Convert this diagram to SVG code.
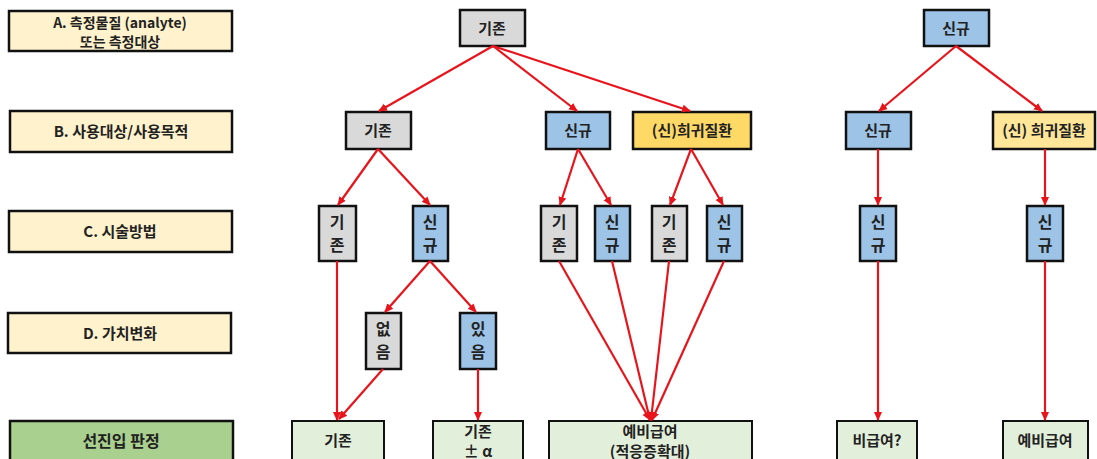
<svg xmlns="http://www.w3.org/2000/svg" width="1097" height="459" viewBox="0 0 1097 459">
<style>
text{font-family:"Noto Sans CJK KR","Liberation Sans",sans-serif;font-weight:bold;fill:#222;text-anchor:middle;font-size:15px}
.v{font-size:16px}
.lbl rect{fill:#fff2cc;stroke:#111;stroke-width:2.5}
.lbl text{font-size:15px}
.g rect{fill:#d9d9d9;stroke:#111;stroke-width:2.5}
.b rect{fill:#9dc3e6;stroke:#111;stroke-width:2.5}
.o rect{fill:#ffd966;stroke:#111;stroke-width:2.5}
.o2 rect{fill:#ffe699;stroke:#111;stroke-width:2.5}
.r rect{fill:#e2efda;stroke:#111;stroke-width:2}
.gr rect{fill:#a9d08e;stroke:#111;stroke-width:2.5}
#edges line{stroke:#e8141c;stroke-width:2.2;marker-end:url(#ah)}
</style>
<defs>
<marker id="ah" markerWidth="10" markerHeight="10" refX="8" refY="5" orient="auto" markerUnits="userSpaceOnUse">
<path d="M0,1 L9,5 L0,9 Z" fill="#e8141c"/>
</marker>
</defs>
<rect width="1097" height="459" fill="#fff"/>
<g id="labelA" class="lbl"><rect x="9" y="11" width="223" height="40"/><text x="120" y="28" style="font-size:14px">A. 측정물질 (analyte)</text><text x="120" y="47" style="font-size:14px">또는 측정대상</text></g>
<g id="labelB" class="lbl"><rect x="10" y="111" width="222" height="41"/><text x="121" y="137">B. 사용대상/사용목적</text></g>
<g id="labelC" class="lbl"><rect x="9" y="211" width="223" height="41"/><text x="120" y="237">C. 시술방법</text></g>
<g id="labelD" class="lbl"><rect x="8" y="313" width="223" height="40"/><text x="120" y="339">D. 가치변화</text></g>
<g id="labelE" class="gr"><rect x="10" y="421" width="223" height="45"/><text x="121" y="447" style="font-size:16px">선진입 판정</text></g>

<g id="a1" class="g"><rect x="460" y="10" width="65" height="36"/><text x="492" y="34">기존</text></g>
<g id="a2" class="b"><rect x="924" y="10" width="65" height="36"/><text x="956" y="34">신규</text></g>

<g id="b1" class="g"><rect x="346" y="112" width="65" height="37"/><text x="378" y="136">기존</text></g>
<g id="b2" class="b"><rect x="546" y="112" width="64" height="37"/><text x="578" y="136">신규</text></g>
<g id="b3" class="o"><rect x="633" y="112" width="118" height="37"/><text x="692" y="136">(신)희귀질환</text></g>
<g id="b4" class="b"><rect x="846" y="112" width="65" height="37"/><text x="878" y="136">신규</text></g>
<g id="b5" class="o2"><rect x="993" y="112" width="102" height="37"/><text x="1044" y="136">(신) 희귀질환</text></g>

<g id="c1" class="g"><rect x="319" y="206" width="37" height="55"/><text class="v" x="337" y="228">기</text><text class="v" x="337" y="251">존</text></g>
<g id="c2" class="b"><rect x="413" y="206" width="35" height="55"/><text class="v" x="430" y="228">신</text><text class="v" x="430" y="251">규</text></g>
<g id="c3" class="g"><rect x="541" y="206" width="36" height="55"/><text class="v" x="559" y="228">기</text><text class="v" x="559" y="251">존</text></g>
<g id="c4" class="b"><rect x="595" y="206" width="35" height="55"/><text class="v" x="612" y="228">신</text><text class="v" x="612" y="251">규</text></g>
<g id="c5" class="g"><rect x="652" y="206" width="35" height="55"/><text class="v" x="669" y="228">기</text><text class="v" x="669" y="251">존</text></g>
<g id="c6" class="b"><rect x="707" y="206" width="35" height="55"/><text class="v" x="724" y="228">신</text><text class="v" x="724" y="251">규</text></g>
<g id="c7" class="b"><rect x="860" y="206" width="36" height="55"/><text class="v" x="878" y="228">신</text><text class="v" x="878" y="251">규</text></g>
<g id="c8" class="b"><rect x="1027" y="206" width="36" height="55"/><text class="v" x="1045" y="228">신</text><text class="v" x="1045" y="251">규</text></g>

<g id="d1" class="g"><rect x="366" y="313" width="35" height="56"/><text class="v" x="383" y="335">없</text><text class="v" x="383" y="358">음</text></g>
<g id="d2" class="b"><rect x="460" y="313" width="36" height="56"/><text class="v" x="478" y="335">있</text><text class="v" x="478" y="358">음</text></g>

<g id="e1" class="r"><rect x="292" y="421" width="92" height="45"/><text x="338" y="446">기존</text></g>
<g id="e2" class="r"><rect x="433" y="421" width="90" height="45"/><text x="478" y="437">기존</text><text x="478" y="457">± α</text></g>
<g id="e3" class="r"><rect x="549" y="421" width="203" height="45"/><text x="650" y="437">예비급여</text><text x="650" y="457">(적응증확대)</text></g>
<g id="e4" class="r"><rect x="837" y="421" width="80" height="45"/><text x="877" y="446">비급여?</text></g>
<g id="e5" class="r"><rect x="1003" y="421" width="85" height="45"/><text x="1045" y="446">예비급여</text></g>

<g id="edges">
<line x1="493" y1="46" x2="379" y2="111"/>
<line x1="493" y1="46" x2="577" y2="111"/>
<line x1="493" y1="46" x2="690" y2="111"/>
<line x1="956" y1="46" x2="879" y2="111"/>
<line x1="956" y1="46" x2="1042" y2="111"/>
<line x1="378" y1="149" x2="338" y2="205"/>
<line x1="378" y1="149" x2="430" y2="205"/>
<line x1="578" y1="149" x2="560" y2="205"/>
<line x1="578" y1="149" x2="611" y2="205"/>
<line x1="691" y1="149" x2="670" y2="205"/>
<line x1="691" y1="149" x2="723" y2="205"/>
<line x1="878" y1="149" x2="878" y2="205"/>
<line x1="1045" y1="149" x2="1045" y2="205"/>
<line x1="430" y1="261" x2="385" y2="312"/>
<line x1="430" y1="261" x2="476" y2="312"/>
<line x1="337" y1="261" x2="337" y2="420"/>
<line x1="383" y1="369" x2="339" y2="419"/>
<line x1="478" y1="369" x2="478" y2="420"/>
<line x1="559" y1="261" x2="650" y2="420"/>
<line x1="612" y1="261" x2="650" y2="420"/>
<line x1="669" y1="261" x2="651" y2="420"/>
<line x1="724" y1="261" x2="652" y2="420"/>
<line x1="878" y1="261" x2="878" y2="420"/>
<line x1="1045" y1="261" x2="1045" y2="420"/>
</g>
</svg>
